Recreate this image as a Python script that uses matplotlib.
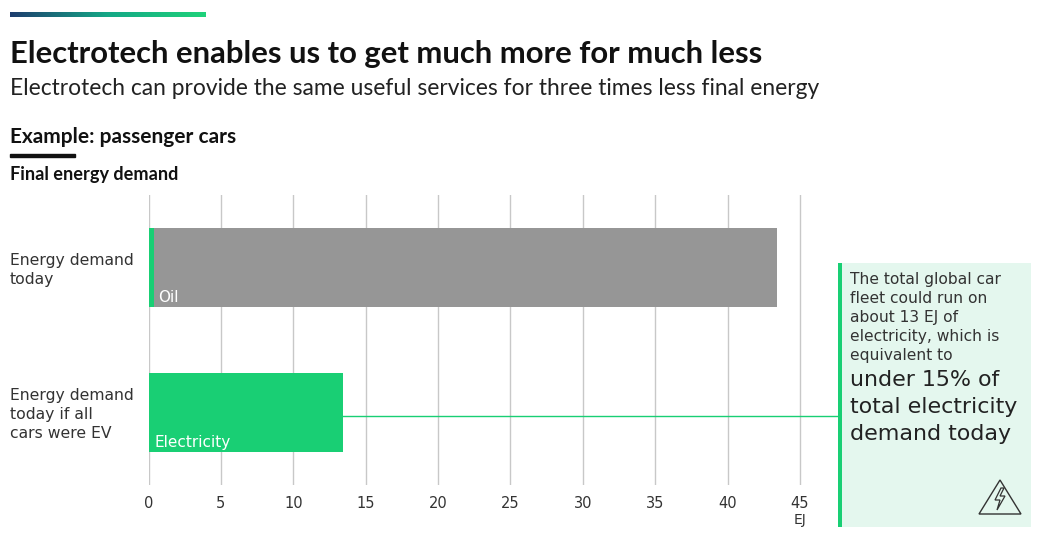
import matplotlib

matplotlib.use("Agg")
import matplotlib.pyplot as plt
import numpy as np
from matplotlib.patches import Rectangle, Polygon

plt.rcParams["font.family"] = ["Lato", "DejaVu Sans"]

# data (EJ)
categories = ["Energy demand\ntoday", "Energy demand\ntoday if all\ncars were EV"]
electricity = [0.35, 13.4]
oil = [43.05, 0.0]
bar_labels = ["Oil", "Electricity"]
ticks = [0, 5, 10, 15, 20, 25, 30, 35, 40, 45]

note_small = ["The total global car", "fleet could run on", "about 13 EJ of",
              "electricity, which is", "equivalent to"]
note_big = ["under 15% of", "total electricity", "demand today"]

GREEN = "#19cf74"
GREY = "#969696"
TXT = "#222222"
BODY = ["DejaVu Sans"]

W, H = 1046, 543
fig = plt.figure(figsize=(W / 100, H / 100), dpi=100)
renderer = fig.canvas.get_renderer()


def fit(texts, target_w):
    """scale a group of text artists so the widest one is target_w pixels"""
    widest = max(t.get_window_extent(renderer).width for t in texts)
    for t in texts:
        t.set_fontsize(t.get_fontsize() * target_w / widest)


# overlay in pixel coords for header / annotation box
ov = fig.add_axes([0, 0, 1, 1])
ov.set_xlim(0, W)
ov.set_ylim(H, 0)
ov.axis("off")

# gradient rule at top
grad = np.linspace(0, 1, 256).reshape(1, -1)
cmap = matplotlib.colors.LinearSegmentedColormap.from_list("g", ["#1e3d6e", "#14a886", "#1fd27a"])
ov.imshow(grad, extent=(10, 206, 17, 12), cmap=cmap, aspect="auto")

t = ov.text(10, 63, "Electrotech enables us to get much more for much less", fontsize=20,
            fontweight="bold", color="#111111", va="baseline")
fit([t], 752)
t = ov.text(10, 95, "Electrotech can provide the same useful services for three times less final energy",
            fontsize=15, color=TXT, va="baseline")
fit([t], 808)
t = ov.text(10, 143, "Example: passenger cars", fontsize=13, fontweight="bold", color="#111111",
            va="baseline")
fit([t], 226)
ov.add_patch(Rectangle((10, 154), 65, 3, color="#111111"))
t = ov.text(10, 180, "Final energy demand", fontsize=11, fontweight="bold", color="#111111",
            va="baseline")
fit([t], 168)

# annotation box
ov.add_patch(Rectangle((838, 263), 193, 264, color="#e4f7ee", lw=0))
ov.add_patch(Rectangle((838, 263), 4, 264, color=GREEN, lw=0))
small = [ov.text(850, 284 + i * 19, s, fontsize=11, color="#333333", va="baseline", family=BODY)
         for i, s in enumerate(note_small)]
fit(small, 151)
big = [ov.text(850, 386 + i * 27, s, fontsize=16, color=TXT, va="baseline", family=BODY)
       for i, s in enumerate(note_big)]
fit(big, 168)

# warning icon
ov.add_patch(Polygon([(979, 514), (1021, 514), (1000, 480)], closed=True, fill=False,
                     ec="#333333", lw=1))
ov.add_patch(Polygon([(1001, 488), (995, 500), (1000, 500), (997, 510), (1005, 496), (1000, 496),
                      (1004, 488)], closed=True, fill=False, ec="#333333", lw=0.9))

# category labels
cat_texts = []
for base, lab in zip([265, 400], categories):
    for i, line in enumerate(lab.split("\n")):
        cat_texts.append(ov.text(10, base + i * 19, line, fontsize=11, color="#333333",
                                 va="baseline", family=BODY))
fit(cat_texts, 124)

# main chart
x0, x45 = 148.5, 800.0
px_per = (x45 - x0) / 45
xmax = (838 - x0) / px_per
ax = fig.add_axes([x0 / W, 1 - 485 / H, (838 - x0) / W, 290 / H])
ax.patch.set_alpha(0)
ax.set_xlim(0, xmax)
ax.set_ylim(1.5, -0.5)
y = np.arange(len(categories))
ax.barh(y, electricity, height=0.55, color=GREEN, zorder=3)
ax.barh(y, oil, left=electricity, height=0.55, color=GREY, zorder=3)
for tk in ticks:
    ax.axvline(tk, color="#c8c8c8", lw=1, zorder=1)
ax.set_xticks(ticks)
ax.set_xticklabels([str(tk) for tk in ticks], fontsize=10.5, color="#333333", family=BODY)
ax.tick_params(axis="x", length=0, pad=8)
ax.set_yticks([])
for s in ax.spines.values():
    s.set_visible(False)
ax.text(45, 1.5 + 28 / 145, "EJ", fontsize=10, color="#333333", ha="center", va="top",
        family=BODY)

# in-bar labels
ax.text(0.65, 0.24, bar_labels[0], color="white", fontsize=11, va="baseline", zorder=4,
        family=BODY)
ax.text(0.4, 1.24, bar_labels[1], color="white", fontsize=11, va="baseline", zorder=4,
        family=BODY)

# connector from electricity bar to the box
ax.plot([electricity[1], xmax], [1 + 3 / 145, 1 + 3 / 145], color=GREEN, lw=1, zorder=2,
        clip_on=False)

fig.savefig("out.png", dpi=100)
